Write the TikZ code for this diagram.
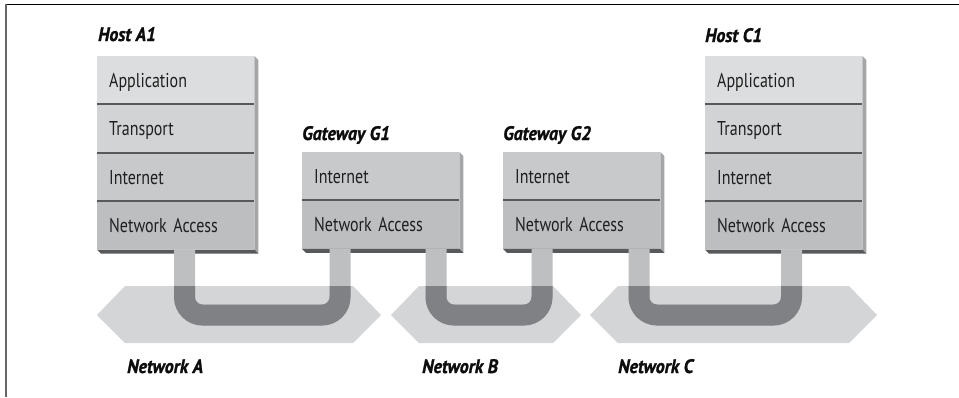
\documentclass[tikz,border=0pt]{standalone}
\usepackage{fontspec}
\usetikzlibrary{calc}
\newfontfamily\layerfont[FakeStretch=0.8]{PT Sans}
\newfontfamily\labfont[FakeStretch=0.92,FakeBold=1.2]{PT Sans}
\definecolor{appc}{HTML}{DCDDDE}
\definecolor{trc}{HTML}{D2D3D5}
\definecolor{inetc}{HTML}{C8C9CB}
\definecolor{nac}{HTML}{BDBEC0}
\definecolor{sepc}{HTML}{58595B}
\definecolor{sidec}{HTML}{A5A6A8}
\definecolor{hexc}{HTML}{D4D5D6}
\definecolor{pipelc}{HTML}{BEBFC1}
\definecolor{pipedc}{HTML}{808184}
\newcommand\netpipe[4]{\draw[#4] (#1) -- (#1 |- #3) -- (#2 |- #3) -- (#2);}
\newcommand\bevelbox[2]{%
  \fill[sidec] (#1.north east) -- ++(4,4) -- ($(#2.south east)+(4,4)$) -- (#2.south east) -- cycle;
  \fill[sepc] (#2.south west) -- (#2.south east) -- ++(4,4) -- ($(#2.south west)+(4,4)$) -- cycle;}
\begin{document}
\begin{tikzpicture}[x=1pt,y=-1pt,
  layer/.style={anchor=north west, inner xsep=12pt, inner ysep=0pt, text width=133pt,
    minimum height=48pt, text height=14pt, text depth=0pt, align=left,
    font=\layerfont\fontsize{20}{24}\selectfont, text=black!88},
  lab/.style={anchor=base west, inner sep=0pt, font=\labfont\fontsize{19.5}{22}\selectfont\bfseries\itshape, text=black!95},
  sepline/.style={draw=sepc, line width=2pt},
  hexa/.style={fill=hexc},
  pipelight/.style={draw=pipelc, line width=21pt, rounded corners=18pt},
  pipedark/.style={draw=pipedc, line width=21pt, rounded corners=18pt}]
\useasboundingbox (0,0) rectangle (959,397);
% frame
\draw[black, line width=1.2pt] (5,4.5) -- (959,4.5);
\draw[black!60, line width=2pt] (5.5,4) -- (5.5,397);

% networks
\fill[hexa] (97,315) -- (125,286) -- (353,286) -- (381,315) -- (353,343) -- (125,343) -- cycle;
\fill[hexa] (391,315) -- (419,286) -- (553,286) -- (581,315) -- (553,343) -- (419,343) -- cycle;
\fill[hexa] (590,315) -- (618,286) -- (849,286) -- (877,315) -- (849,343) -- (618,343) -- cycle;
\coordinate (nA) at (239,315);
\coordinate (nB) at (486,315);
\coordinate (nC) at (733,315);

% Host A1
\node[layer, fill=appc] (a1app) at (97,56) {Application};
\node[layer, fill=trc] (a1tr) at (a1app.south west) {Transport};
\node[layer, fill=inetc] (a1in) at (a1tr.south west) {Internet};
\node[layer, fill=nac] (a1na) at (a1in.south west) {Network Access};
\bevelbox{a1app}{a1na}
\draw[sepline] (a1tr.north west) -- (a1tr.north east);
\draw[sepline] (a1in.north west) -- (a1in.north east);
\draw[sepline] (a1na.north west) -- (a1na.north east);

% Gateway G1
\node[layer, fill=inetc] (g1in) at (302,152) {Internet};
\node[layer, fill=nac] (g1na) at (g1in.south west) {Network Access};
\bevelbox{g1in}{g1na}
\draw[sepline] (g1na.north west) -- (g1na.north east);

% Gateway G2
\node[layer, fill=inetc] (g2in) at (503,152) {Internet};
\node[layer, fill=nac] (g2na) at (g2in.south west) {Network Access};
\bevelbox{g2in}{g2na}
\draw[sepline] (g2na.north west) -- (g2na.north east);

% Host C1
\node[layer, fill=appc] (c1app) at (705,56) {Application};
\node[layer, fill=trc] (c1tr) at (c1app.south west) {Transport};
\node[layer, fill=inetc] (c1in) at (c1tr.south west) {Internet};
\node[layer, fill=nac] (c1na) at (c1in.south west) {Network Access};
\bevelbox{c1app}{c1na}
\draw[sepline] (c1tr.north west) -- (c1tr.north east);
\draw[sepline] (c1in.north west) -- (c1in.north east);
\draw[sepline] (c1na.north west) -- (c1na.north east);

% pipe attachment points
\coordinate (pa1) at ($(a1na.south west)+(87.5,0)$);
\coordinate (pg1l) at ($(g1na.south west)+(38,0)$);
\coordinate (pg1r) at ($(g1na.south west)+(134,0)$);
\coordinate (pg2l) at ($(g2na.south west)+(39,0)$);
\coordinate (pg2r) at ($(g2na.south west)+(136,0)$);
\coordinate (pc1) at ($(c1na.south west)+(86.5,0)$);

% pipes
\netpipe{pa1}{pg1l}{nA}{pipelight}
\netpipe{pg1r}{pg2l}{nB}{pipelight}
\netpipe{pg2r}{pc1}{nC}{pipelight}
\begin{scope}
\clip (0,286) rectangle (959,397);
\netpipe{pa1}{pg1l}{nA}{pipedark}
\netpipe{pg1r}{pg2l}{nB}{pipedark}
\netpipe{pg2r}{pc1}{nC}{pipedark}
\end{scope}

% labels
\node[lab] (lA1) at (98,41) {Host A1};
\node[lab] (lG1) at (302,140) {Gateway G1};
\node[lab] (lG2) at (503,140) {Gateway G2};
\node[lab] (lC1) at (705,42) {Host C1};
\node[lab] (lNA) at (127,373) {Network A};
\node[lab] (lNB) at (422,373) {Network B};
\node[lab] (lNC) at (618,373) {Network C};
\end{tikzpicture}
\end{document}
